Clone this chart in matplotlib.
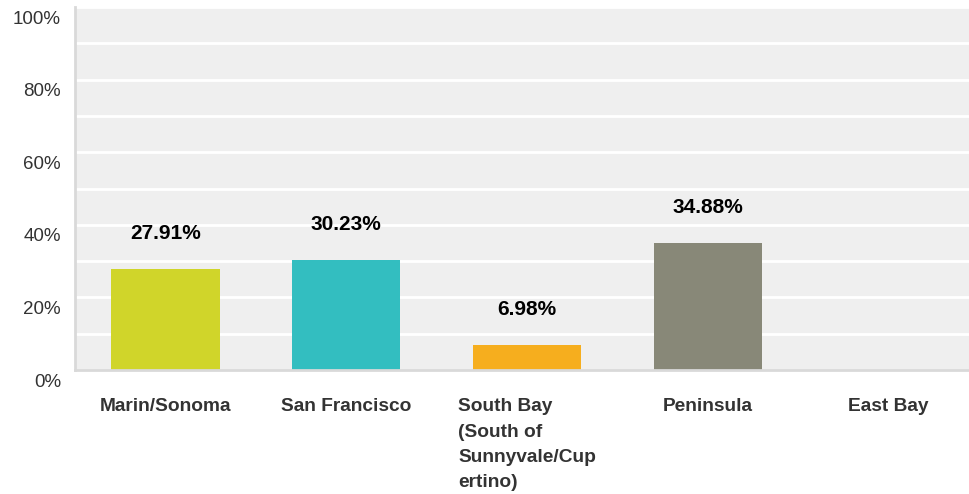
import matplotlib
matplotlib.use("Agg")
import matplotlib.pyplot as plt
import matplotlib.transforms as mtransforms
import numpy as np

categories = ["Marin/Sonoma", "San Francisco", "South Bay\n(South of\nSunnyvale/Cup\nertino)", "Peninsula", "East Bay"]
values = [27.91, 30.23, 6.98, 34.88, 0.0]
value_labels = ["27.91%", "30.23%", "6.98%", "34.88%", ""]
colors = ["#D0D52A", "#33BEC0", "#F6AE1E", "#888878", "#888888"]
ytick_values = [0, 20, 40, 60, 80, 100]
ytick_labels = ["0%", "20%", "40%", "60%", "80%", "100%"]

plt.rcParams['font.family'] = ['Liberation Sans', 'DejaVu Sans']

W, H = 969, 494
fig = plt.figure(figsize=(W / 100, H / 100), dpi=100)
ax = fig.add_axes([75 / W, (H - 370) / H, 1 - 75 / W, (370 - 7) / H])
ax.set_facecolor("#EFEFEF")

x = np.arange(len(categories))
ax.bar(x, values, width=0.6, color=colors, zorder=3)

for xi, v, lab in zip(x, values, value_labels):
    if lab:
        ax.annotate(lab, (xi, v), xytext=(0, 25.5), textcoords="offset points",
                    ha="center", va="center", fontsize=15, fontweight="bold", color="#000000")

ax.set_xlim(-0.5, 4.445)
ax.set_ylim(0, 100)
ax.set_yticks(np.arange(0, 101, 10), minor=True)
ax.set_yticks(ytick_values)
ax.set_yticklabels(ytick_labels, fontsize=13.5, color="#333333")
ax.grid(axis="y", which="both", color="white", linewidth=2, zorder=1)
ax.set_axisbelow(True)
ax.tick_params(axis="y", which="both", length=0, pad=10)

offset = mtransforms.ScaledTranslation(0, -10 / 100, fig.dpi_scale_trans)
for lbl in ax.get_yticklabels():
    lbl.set_transform(lbl.get_transform() + offset)

ax.set_xticks(x)
ax.set_xticklabels(categories, fontsize=13.8, fontweight="bold", color="#333333",
                   va="top", linespacing=1.62)
for lbl in ax.get_xticklabels():
    lbl.set_multialignment("left")
ax.tick_params(axis="x", length=0, pad=20.5)

for s in ["top", "right"]:
    ax.spines[s].set_visible(False)
for s in ["left", "bottom"]:
    ax.spines[s].set_color("#D9D9D9")
    ax.spines[s].set_linewidth(2)
    ax.spines[s].set_zorder(4)

fig.savefig("out.png", dpi=100)
